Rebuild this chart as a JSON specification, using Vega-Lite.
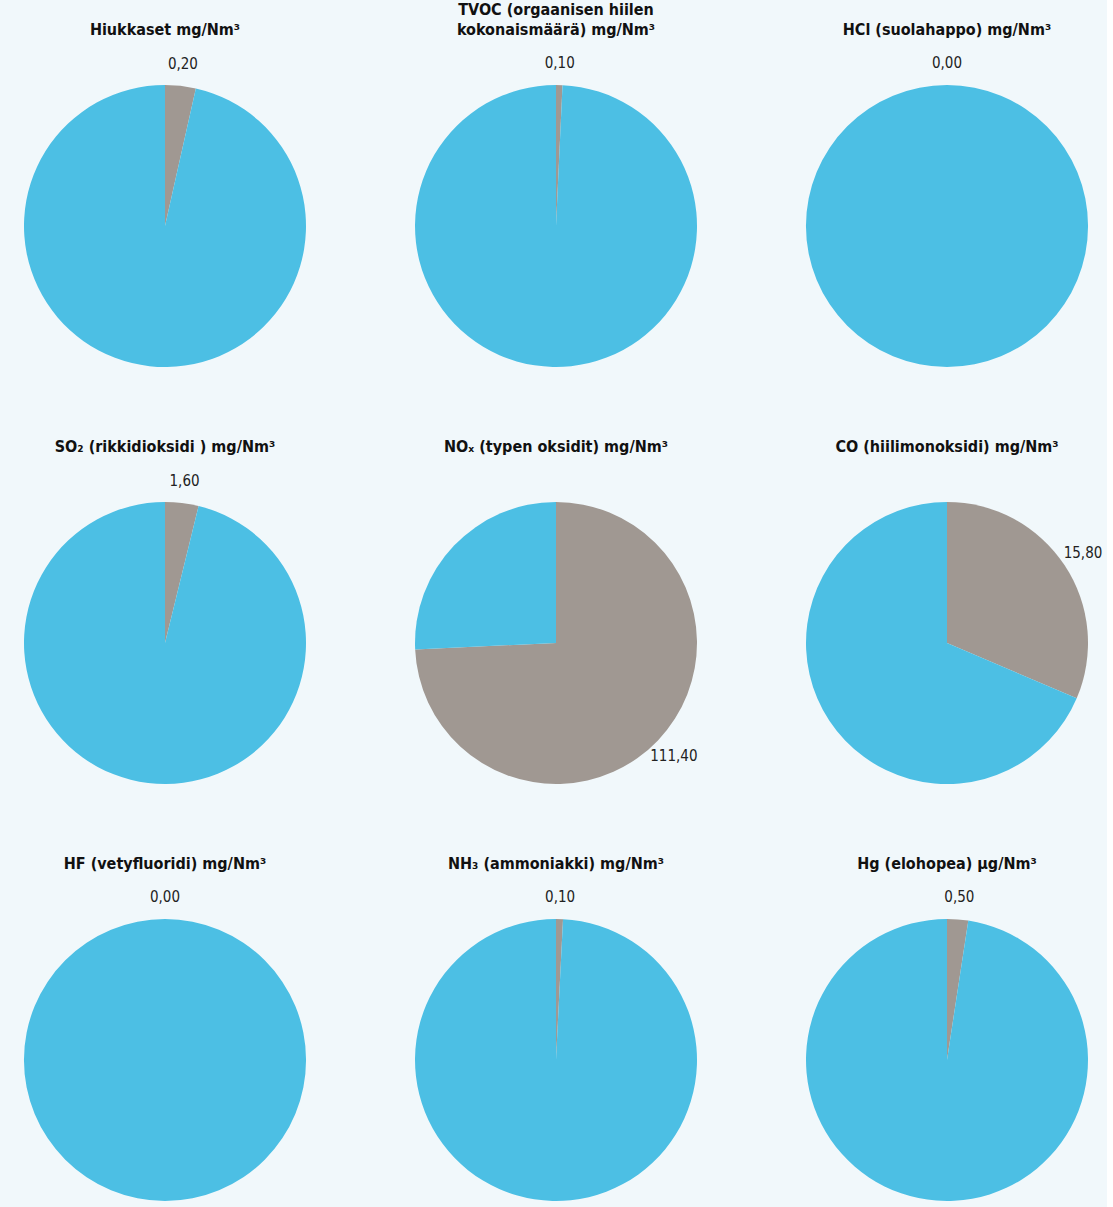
{
  "$schema": "https://vega.github.io/schema/vega-lite/v6.json",
  "background": "#F1F8FB",
  "padding": {"left": 5, "top": 2, "right": 0, "bottom": 0},
  "data": {
    "values": [
      {"aine": "Hiukkaset mg/Nm³", "osa": "mitattu", "arvo": 0.20},
      {"aine": "Hiukkaset mg/Nm³", "osa": "raja", "arvo": 5.5},
      {"aine": "TVOC (orgaanisen hiilen|kokonaismäärä)  mg/Nm³", "osa": "mitattu", "arvo": 0.10},
      {"aine": "TVOC (orgaanisen hiilen|kokonaismäärä)  mg/Nm³", "osa": "raja", "arvo": 13.5},
      {"aine": "HCl (suolahappo) mg/Nm³", "osa": "mitattu", "arvo": 0.00},
      {"aine": "HCl (suolahappo) mg/Nm³", "osa": "raja", "arvo": 10},
      {"aine": "SO₂ (rikkidioksidi ) mg/Nm³", "osa": "mitattu", "arvo": 1.60},
      {"aine": "SO₂ (rikkidioksidi ) mg/Nm³", "osa": "raja", "arvo": 40.2},
      {"aine": "NOₓ (typen oksidit) mg/Nm³", "osa": "mitattu", "arvo": 111.40},
      {"aine": "NOₓ (typen oksidit) mg/Nm³", "osa": "raja", "arvo": 38.6},
      {"aine": "CO (hiilimonoksidi) mg/Nm³", "osa": "mitattu", "arvo": 15.80},
      {"aine": "CO (hiilimonoksidi) mg/Nm³", "osa": "raja", "arvo": 34.5},
      {"aine": "HF (vetyfluoridi) mg/Nm³", "osa": "mitattu", "arvo": 0.00},
      {"aine": "HF (vetyfluoridi) mg/Nm³", "osa": "raja", "arvo": 1},
      {"aine": "NH₃ (ammoniakki)  mg/Nm³", "osa": "mitattu", "arvo": 0.10},
      {"aine": "NH₃ (ammoniakki)  mg/Nm³", "osa": "raja", "arvo": 12.5},
      {"aine": "Hg (elohopea) µg/Nm³", "osa": "mitattu", "arvo": 0.50},
      {"aine": "Hg (elohopea) µg/Nm³", "osa": "raja", "arvo": 20.2}
    ]
  },
  "facet": {
    "field": "aine",
    "type": "nominal",
    "title": null,
    "sort": [
      "Hiukkaset mg/Nm³",
      "TVOC (orgaanisen hiilen|kokonaismäärä)  mg/Nm³",
      "HCl (suolahappo) mg/Nm³",
      "SO₂ (rikkidioksidi ) mg/Nm³",
      "NOₓ (typen oksidit) mg/Nm³",
      "CO (hiilimonoksidi) mg/Nm³",
      "HF (vetyfluoridi) mg/Nm³",
      "NH₃ (ammoniakki)  mg/Nm³",
      "Hg (elohopea) µg/Nm³"
    ],
    "header": {
      "labelExpr": "split(datum.label, '|')",
      "labelFont": "DejaVu Sans Condensed, sans-serif",
      "labelFontSize": 16,
      "labelFontWeight": "bold",
      "labelColor": "#111111",
      "labelLineHeight": 20,
      "labelBaseline": "middle",
      "labelPadding": 5
    }
  },
  "columns": 3,
  "spacing": {"column": 71, "row": 38},
  "spec": {
    "width": 320,
    "height": 350,
    "encoding": {
      "theta": {"field": "arvo", "type": "quantitative", "stack": "normalize"},
      "order": {"field": "osa", "type": "ordinal", "sort": "ascending"}
    },
    "layer": [
      {
        "mark": {"type": "arc", "outerRadius": 141, "stroke": null},
        "encoding": {
          "color": {
            "field": "osa",
            "type": "nominal",
            "scale": {"domain": ["mitattu", "raja"], "range": ["#A09892", "#4CBFE4"]},
            "legend": null
          }
        }
      },
      {
        "mark": {
          "type": "text",
          "radius": 163,
          "font": "DejaVu Sans Condensed, sans-serif",
          "fontSize": 15,
          "color": "#222222"
        },
        "encoding": {
          "detail": {"field": "osa", "type": "nominal"},
          "text": {
            "condition": {"test": "datum.osa === 'mitattu'", "field": "arvo", "type": "quantitative", "format": ".2f"},
            "value": ""
          }
        }
      }
    ]
  },
  "config": {
    "view": {"stroke": null},
    "locale": {
      "number": {"decimal": ",", "thousands": " ", "grouping": [3], "currency": ["", " €"]}
    }
  }
}
